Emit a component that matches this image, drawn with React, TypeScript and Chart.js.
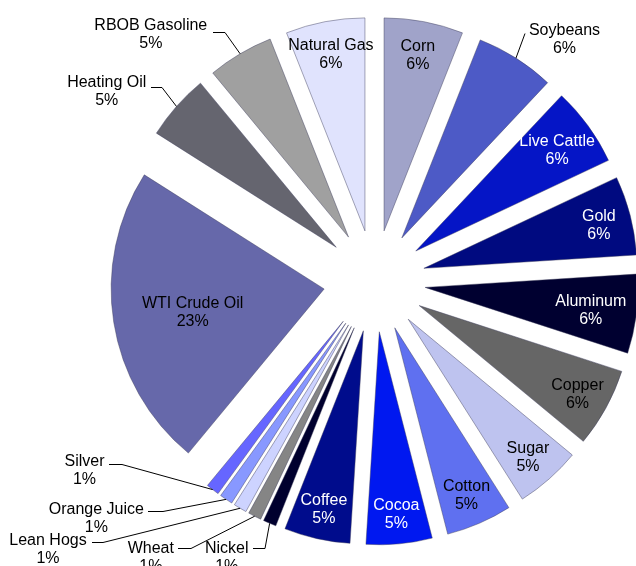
import React, { useEffect, useRef } from 'react';
import { Chart, registerables } from 'chart.js';

Chart.register(...registerables);

const categories = [
  'Corn', 'Soybeans', 'Live Cattle', 'Gold', 'Aluminum', 'Copper', 'Sugar',
  'Cotton', 'Cocoa', 'Coffee', 'Nickel', 'Wheat', 'Lean Hogs', 'Orange Juice',
  'Silver', 'WTI Crude Oil', 'Heating Oil', 'RBOB Gasoline', 'Natural Gas',
];

const weights = [6, 6, 6, 6, 6, 6, 5, 5, 5, 5, 1, 1, 1, 1, 1, 23, 5, 5, 6];

const sliceColors = [
  '#A0A3C9', '#4D5AC6', '#0515C6', '#000A80', '#000030', '#666666', '#BEC3EF',
  '#5F70F0', '#0018F0', '#000C8C', '#00002E', '#858585', '#CDD3FF', '#8898FF',
  '#6666FF', '#6668AA', '#65656F', '#A0A0A0', '#E0E3FD',
];

const textColors = [
  '#000', '#000', '#fff', '#fff', '#fff', '#000', '#000',
  '#000', '#fff', '#fff', '#000', '#000', '#000', '#000',
  '#000', '#000', '#000', '#000', '#000',
];

// inside label distance (fraction of radius from the slice tip)
const labelRadius = [
  0.848, 0, 0.82, 0.848, 0.784, 0.848, 0.85,
  0.848, 0.85, 0.85, 0, 0, 0, 0,
  0, 0.625, 0, 0, 0.853,
];

// outside labels: text centre and leader end, relative to the pie centre
const outsideLabels: Record<string, { text: [number, number]; end: [number, number]; knee: number }> = {
  'Soybeans': { text: [190, -244.3], end: [150.5, -248.3], knee: 0 },
  'RBOB Gasoline': { text: [-223.7, -249.3], end: [-161.5, -248.7], knee: 12 },
  'Heating Oil': { text: [-267.8, -191.5], end: [-223.8, -193.7], knee: 11 },
  'Silver': { text: [-290, 187], end: [-265.5, 183], knee: 12.7 },
  'Orange Juice': { text: [-278.2, 234.8], end: [-226.2, 230], knee: 15 },
  'Lean Hogs': { text: [-326.5, 266], end: [-282.5, 260.7], knee: 11.3 },
  'Wheat': { text: [-223.7, 274], end: [-196.2, 267.3], knee: 13.4 },
  'Nickel': { text: [-147.8, 274], end: [-121.5, 267.3], knee: 12 },
};

const EXPLODE = 51;
const RADIUS = 213;
const FONT = '16px "Liberation Sans", Arial, sans-serif';
const TEXT_SHIFT = 2.5;

const explodePlugin = {
  id: 'explodeSlices',
  afterDatasetUpdate(chart: any, args: any) {
    const meta = chart.getDatasetMeta(args.index);
    meta.data.forEach((arc: any) => {
      const mid = (arc.startAngle + arc.endAngle) / 2;
      arc.x += EXPLODE * Math.cos(mid);
      arc.y += EXPLODE * Math.sin(mid);
    });
  },
};

const labelPlugin = {
  id: 'sliceLabels',
  afterDatasetsDraw(chart: any) {
    const ctx = chart.ctx as CanvasRenderingContext2D;
    const meta = chart.getDatasetMeta(0);
    const ca = chart.chartArea;
    const cx = (ca.left + ca.right) / 2;
    const cy = (ca.top + ca.bottom) / 2;
    ctx.save();
    ctx.font = FONT;
    ctx.textAlign = 'center';
    ctx.textBaseline = 'middle';
    meta.data.forEach((arc: any, i: number) => {
      const mid = (arc.startAngle + arc.endAngle) / 2;
      const name = categories[i];
      const out = outsideLabels[name];
      let tx: number;
      let ty: number;
      if (out) {
        const ox = arc.x + arc.outerRadius * Math.cos(mid);
        const oy = arc.y + arc.outerRadius * Math.sin(mid);
        const ex = Math.round(cx + out.end[0]);
        const ey = Math.round(cy + out.end[1]) + 0.5;
        ctx.beginPath();
        ctx.moveTo(ox, oy);
        ctx.lineTo(ex + Math.round(out.knee), ey);
        ctx.lineTo(ex, ey);
        ctx.strokeStyle = '#000';
        ctx.lineWidth = 1;
        ctx.stroke();
        tx = cx + out.text[0];
        ty = cy + out.text[1];
      } else {
        const r = arc.outerRadius * labelRadius[i];
        tx = arc.x + r * Math.cos(mid);
        ty = arc.y + r * Math.sin(mid);
      }
      ctx.fillStyle = out ? '#000' : textColors[i];
      ctx.fillText(name, tx, ty - 9 + TEXT_SHIFT);
      ctx.fillText(weights[i] + '%', tx, ty + 9 + TEXT_SHIFT);
    });
    ctx.restore();
  },
};

export default function App() {
  const canvasRef = useRef<HTMLCanvasElement | null>(null);

  useEffect(() => {
    if (!canvasRef.current) return;
    const chart = new Chart(canvasRef.current, {
      type: 'pie',
      data: {
        labels: categories,
        datasets: [
          {
            data: weights,
            backgroundColor: sliceColors,
            borderColor: 'rgba(60,60,90,0.45)',
            borderWidth: 1,
            offset: 0,
            hoverOffset: 0,
          },
        ],
      },
      options: {
        animation: false,
        responsive: false,
        events: [],
        radius: RADIUS,
        layout: { padding: { left: 113, right: 0, top: 0, bottom: 4 } },
        plugins: {
          legend: { display: false },
          tooltip: { enabled: false },
        },
      } as any,
      plugins: [explodePlugin, labelPlugin],
    });
    return () => chart.destroy();
  }, []);

  return (
    <div style={{ position: 'fixed', left: 0, top: 0, width: 636, height: 566, background: '#fff' }}>
      <canvas ref={canvasRef} width={636} height={566} />
    </div>
  );
}
